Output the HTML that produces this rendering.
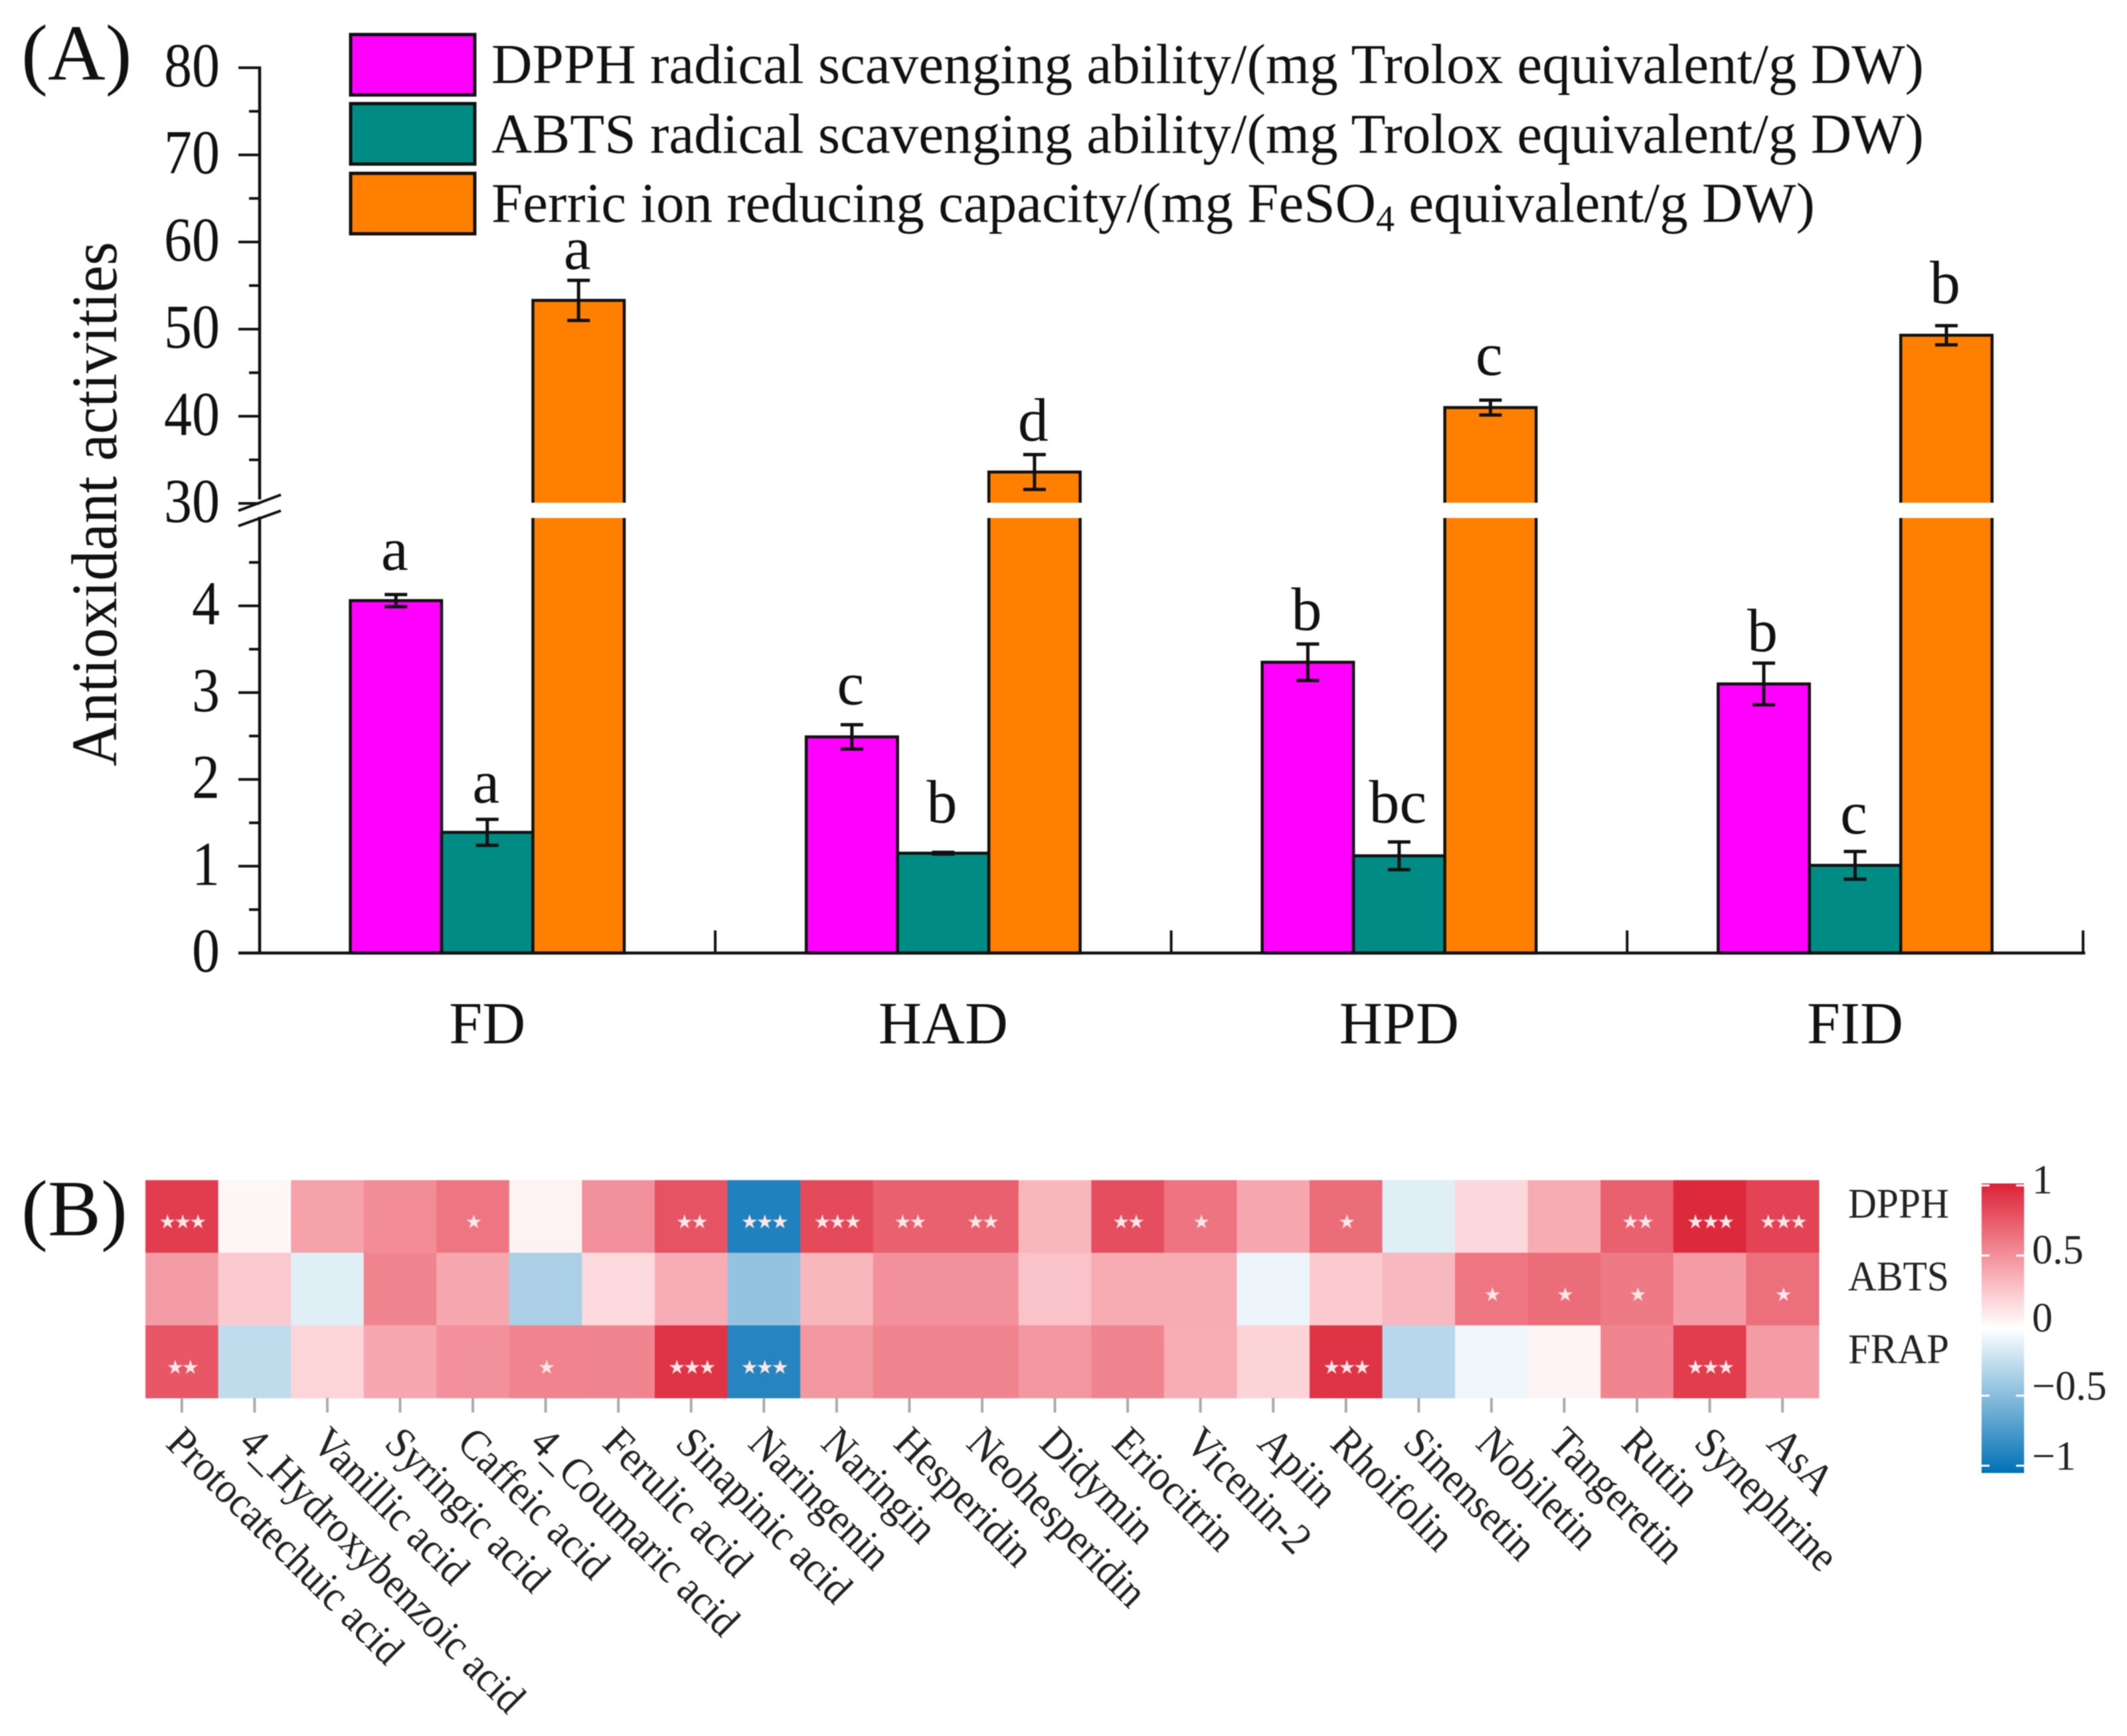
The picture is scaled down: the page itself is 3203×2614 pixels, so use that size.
<!DOCTYPE html>
<html>
<head>
<meta charset="utf-8">
<title>Antioxidant activities and correlation heatmap</title>
<style>
html,body{margin:0;padding:0;background:#fff;}
svg{display:block;font-family:"Liberation Serif",serif;filter:blur(0.9px);}
</style>
</head>
<body>
<svg id="chart" xmlns="http://www.w3.org/2000/svg" width="3203" height="2614" viewBox="0 0 3203 2614">
<rect x="0" y="0" width="3203" height="2614" fill="#fff"/>
<text x="32" y="120" font-size="120" fill="#111">(A)</text>
<text x="32" y="1860" font-size="120" fill="#111">(B)</text>
<text transform="translate(175,759) rotate(-90)" text-anchor="middle" font-size="97" textLength="790" lengthAdjust="spacingAndGlyphs" fill="#111">Antioxidant activities</text>
<g>
<rect x="528" y="52" width="187" height="91" fill="#ff00ff" stroke="#111" stroke-width="5"/>
<rect x="528" y="156" width="187" height="91" fill="#008b85" stroke="#111" stroke-width="5"/>
<rect x="528" y="261" width="187" height="91" fill="#ff8000" stroke="#111" stroke-width="5"/>
<text x="740" y="125" font-size="85" textLength="2157" lengthAdjust="spacingAndGlyphs" fill="#111">DPPH radical scavenging ability/(mg Trolox equivalent/g DW)</text>
<text x="740" y="230" font-size="85" textLength="2157" lengthAdjust="spacingAndGlyphs" fill="#111">ABTS radical scavenging ability/(mg Trolox equivalent/g DW)</text>
<text x="740" y="334" font-size="85" textLength="1993" lengthAdjust="spacingAndGlyphs" fill="#111">Ferric ion reducing capacity/(mg FeSO<tspan font-size="56" dy="14">4</tspan><tspan dy="-14"> equivalent/g DW)</tspan></text>
</g>
<g id="bars-layer"></g>
<g id="heat-layer"></g>
<g id="cbar-layer"></g>
</svg>
<script>
/* ---------- bar chart data ---------- */
const groups = ['FD', 'HAD', 'HPD', 'FID'];
const seriesNames = ['DPPH', 'ABTS', 'FRAP'];
const dpphValues = [4.06, 2.49, 3.35, 3.10];
const abtsValues = [1.39, 1.15, 1.12, 1.01];
const frapValues = [53.3, 33.6, 41.0, 49.3];
const dpphErrors = [0.07, 0.14, 0.21, 0.24];
const abtsErrors = [0.15, 0.01, 0.16, 0.16];
const frapErrors = [2.3, 2.0, 0.85, 1.1];
const dpphLetters = ['a', 'c', 'b', 'b'];
const abtsLetters = ['a', 'b', 'bc', 'c'];
const frapLetters = ['a', 'd', 'c', 'b'];
const upperTicks = [30, 40, 50, 60, 70, 80];
const lowerTicks = [0, 1, 2, 3, 4];
const upperMinorTicks = [35, 45, 55, 65, 75];
const lowerMinorTicks = [0.5, 1.5, 2.5, 3.5, 4.5];

/* ---------- heatmap data ---------- */
const compounds = ['Protocatechuic acid', '4_Hydroxybenzoic acid', 'Vanillic acid', 'Syringic acid', 'Caffeic acid', '4_Coumaric acid', 'Ferulic acid', 'Sinapinic acid', 'Naringenin', 'Naringin', 'Hesperidin', 'Neohesperidin', 'Didymin', 'Eriocitrin', 'Vicenin-2', 'Apiin', 'Rhoifolin', 'Sinensetin', 'Nobiletin', 'Tangeretin', 'Rutin', 'Synephrine', 'AsA'];
const assays = ['DPPH', 'ABTS', 'FRAP'];
const dpphCorr = [0.88, 0.04, 0.42, 0.52, 0.62, 0.06, 0.50, 0.78, -0.88, 0.82, 0.72, 0.72, 0.33, 0.80, 0.63, 0.40, 0.66, -0.12, 0.18, 0.38, 0.72, 0.97, 0.85];
const abtsCorr = [0.45, 0.24, -0.12, 0.55, 0.40, -0.33, 0.17, 0.37, -0.42, 0.33, 0.50, 0.50, 0.27, 0.38, 0.38, -0.07, 0.24, 0.32, 0.62, 0.66, 0.60, 0.45, 0.65];
const frapCorr = [0.76, -0.25, 0.19, 0.40, 0.50, 0.56, 0.55, 0.92, -0.85, 0.47, 0.55, 0.55, 0.47, 0.55, 0.37, 0.20, 0.92, -0.28, -0.06, 0.05, 0.55, 0.88, 0.45];
const dpphStars = ['***', '', '', '', '*', '', '', '**', '***', '***', '**', '**', '', '**', '*', '', '*', '', '', '', '**', '***', '***'];
const abtsStars = ['', '', '', '', '', '', '', '', '', '', '', '', '', '', '', '', '', '', '*', '*', '*', '', '*'];
const frapStars = ['**', '', '', '', '', '*', '', '***', '***', '', '', '', '', '', '', '', '***', '', '', '', '', '***', ''];
const colorbarTicks = [1, 0.5, 0, -0.5, -1];
const colorbarStops = [1, 0.75, 0.5, 0.25, 0, -0.25, -0.5, -0.75, -1];

/* ---------- layout ---------- */
const NS = 'http://www.w3.org/2000/svg';
const INK = '#111';
const barColors = ['#ff00ff', '#008b85', '#ff8000'];
const axisX = 391, axisEndX = 3138, baseY = 1435;
const firstBarX = 527.5, barW = 137.5, groupStep = 686.6;
const pxPerUnitLower = 130.7, pxPerUnitUpper = 13.12, upperBaseY = 758, upperBaseV = 30;
const breakTop = 757, breakBottom = 780;
// vertical gap between the error-bar cap and its significance letter (layout only)
const letterLift = [[37, 31, 21, 18], [25, 45, 29, 27], [17, 21, 38, 34]];

function y(v) {
  return v <= 5 ? baseY - v * pxPerUnitLower : upperBaseY - (v - upperBaseV) * pxPerUnitUpper;
}
function barX(g, s) { return firstBarX + g * groupStep + s * barW; }
function mk(parent, tag, attrs, txt) {
  const el = document.createElementNS(NS, tag);
  for (const k in attrs) el.setAttribute(k, attrs[k]);
  if (txt !== undefined) el.textContent = txt;
  parent.appendChild(el);
  return el;
}

/* ---------- draw bars ---------- */
const barsLayer = document.getElementById('bars-layer');
const allValues = [dpphValues, abtsValues, frapValues];
const allErrors = [dpphErrors, abtsErrors, frapErrors];
const allLetters = [dpphLetters, abtsLetters, frapLetters];

groups.forEach(function (name, g) {
  allValues.forEach(function (vals, s) {
    const top = y(vals[g]);
    const x0 = barX(g, s);
    const bar = mk(barsLayer, 'rect', { x: x0, y: top, width: barW, height: baseY - top, fill: barColors[s], stroke: INK, 'stroke-width': 4.5 });
    
    
  });
  /* white axis-break gap through tall bars */
  allValues.forEach(function (vals, s) {
    if (vals[g] > 5) {
      const gap = mk(barsLayer, 'rect', { x: barX(g, s) - 4, y: breakTop, width: barW + 8, height: breakBottom - breakTop, fill: '#fff' });
      
      
    }
  });
  allValues.forEach(function (vals, s) {
    const cx = barX(g, s) + barW / 2;
    const hi = y(vals[g] + allErrors[s][g]);
    const lo = y(vals[g] - allErrors[s][g]);
    const eb = mk(barsLayer, 'path', { d: 'M' + (cx - 17) + ' ' + hi + 'H' + (cx + 17) + 'M' + cx + ' ' + hi + 'V' + lo + 'M' + (cx - 17) + ' ' + lo + 'H' + (cx + 17), stroke: INK, 'stroke-width': 5, fill: 'none' });
    
    
    const lb = mk(barsLayer, 'text', { x: cx - 2, y: hi - letterLift[s][g], 'text-anchor': 'middle', 'font-size': 92, fill: INK }, allLetters[s][g]);
    
    
  });
  const gl = mk(barsLayer, 'text', { x: barX(g, 1) + barW / 2, y: 1571, 'text-anchor': 'middle', 'font-size': 90, fill: INK }, name);
  
  
  const tx = firstBarX + barW * 1.5 + (g + 0.5) * groupStep;
  const xt = mk(barsLayer, 'line', { x1: tx, x2: tx, y1: baseY, y2: baseY - 34, stroke: INK, 'stroke-width': 4 });
  
  
});

/* axes */
const xAxis = mk(barsLayer, 'line', { x1: 359, x2: axisEndX + 2, y1: baseY, y2: baseY, stroke: INK, 'stroke-width': 4.5 });


const yUp = mk(barsLayer, 'line', { x1: axisX, x2: axisX, y1: y(80) - 2, y2: 752, stroke: INK, 'stroke-width': 4.5 });


const yLow = mk(barsLayer, 'line', { x1: axisX, x2: axisX, y1: 778, y2: baseY, stroke: INK, 'stroke-width': 4.5 });


const br1 = mk(barsLayer, 'line', { x1: 359, y1: 769, x2: 423, y2: 745, stroke: INK, 'stroke-width': 4 });


const br2 = mk(barsLayer, 'line', { x1: 359, y1: 792, x2: 423, y2: 769, stroke: INK, 'stroke-width': 4 });



upperTicks.concat(lowerTicks).forEach(function (v) {
  if (v !== 0) {
    const t = mk(barsLayer, 'line', { x1: 359, x2: axisX, y1: y(v), y2: y(v), stroke: INK, 'stroke-width': 4 });
    
    
  }
  const s = String(v);
  const l = mk(barsLayer, 'text', { x: 331, y: y(v) + 28, 'text-anchor': 'end', 'font-size': 94, textLength: s.length * 42, lengthAdjust: 'spacingAndGlyphs', fill: INK }, s);
  
  
});
upperMinorTicks.concat(lowerMinorTicks).forEach(function (v) {
  const t = mk(barsLayer, 'line', { x1: 375, x2: axisX, y1: y(v), y2: y(v), stroke: INK, 'stroke-width': 4 });
  
  
});

/* ---------- draw heatmap ---------- */
const heatLayer = document.getElementById('heat-layer');
const heatX = 219, heatRight = 2739, heatY = 1777, heatBottom = 2105;
const cellW = (heatRight - heatX) / compounds.length;
const cellH = (heatBottom - heatY) / assays.length;
const allCorr = [dpphCorr, abtsCorr, frapCorr];
const allStars = [dpphStars, abtsStars, frapStars];

function colorOf(v) {
  const t = Math.min(1, Math.abs(v));
  if (v >= 0) {
    const r = Math.round(255 - 36 * Math.pow(t, 1.5));
    const g = Math.round(255 - 221 * t);
    const b = Math.round(255 - 201 * t);
    return 'rgb(' + r + ',' + g + ',' + b + ')';
  }
  const c = [0, 112, 180].map(function (e) { return Math.round(255 + (e - 255) * t); });
  return 'rgb(' + c.join(',') + ')';
}

assays.forEach(function (a, r) {
  compounds.forEach(function (c, i) {
    const cell = mk(heatLayer, 'rect', { x: heatX + i * cellW, y: heatY + r * cellH, width: cellW + 0.5, height: cellH + 0.5, fill: colorOf(allCorr[r][i]) });
    
    
  });
});
assays.forEach(function (a, r) {
  compounds.forEach(function (c, i) {
    const st = allStars[r][i];
    if (st) {
      const s = mk(heatLayer, 'text', { x: heatX + (i + 0.5) * cellW, y: heatY + (r + 0.5) * cellH + 18, 'text-anchor': 'middle', 'font-size': 29, 'letter-spacing': '-3', fill: '#fbe6e8', style: 'font-family:"DejaVu Sans",sans-serif' }, st.replace(/\*/g, '\u2605'));
      
      
    }
  });
  const rl = mk(heatLayer, 'text', { x: 2783, y: heatY + (r + 0.5) * cellH + 2, 'font-size': 64, textLength: 152, lengthAdjust: 'spacingAndGlyphs', fill: '#222' }, a);
  
  
});
compounds.forEach(function (c, i) {
  const cx = heatX + (i + 0.5) * cellW;
  const t = mk(heatLayer, 'line', { x1: cx, x2: cx, y1: heatBottom, y2: 2127, stroke: '#aaa', 'stroke-width': 4 });
  
  
  const l = mk(heatLayer, 'text', { transform: 'translate(' + (cx - 26) + ',2176) rotate(45) scale(0.985,1.07)', 'font-size': 61, fill: '#222' }, c);
  
  
});

/* ---------- draw colorbar ---------- */
const cbarLayer = document.getElementById('cbar-layer');
const cbX = 2984, cbW = 64, cbZero = 1996, cbHalf = 105.5;
function cbY(v) { return cbZero - v * 2 * cbHalf; }
const defs = mk(cbarLayer, 'defs', {});
const grad = mk(defs, 'linearGradient', { id: 'cbGrad', x1: 0, y1: 0, x2: 0, y2: 1 });
colorbarStops.forEach(function (v, i) {
  mk(grad, 'stop', { offset: (i / (colorbarStops.length - 1)), 'stop-color': colorOf(v) });
});
const cb = mk(cbarLayer, 'rect', { x: cbX, y: cbY(1) - 3, width: cbW, height: cbY(-1) - cbY(1) + 14, fill: 'url(#cbGrad)' });


colorbarTicks.forEach(function (v) {
  const yy = cbY(v);
  const t = mk(cbarLayer, 'path', { d: 'M' + cbX + ' ' + yy + 'h12M' + (cbX + cbW - 12) + ' ' + yy + 'h12', stroke: '#fff', 'stroke-width': 3 });
  
  
  const s = String(v).replace('-', '\u2212');
  const l = mk(cbarLayer, 'text', { x: 3060, y: yy + (v > 0 ? 12 : (v === 0 ? 9 : 6)), 'font-size': 62, fill: '#222' }, s);
  
  
});
</script>
</body>
</html>
